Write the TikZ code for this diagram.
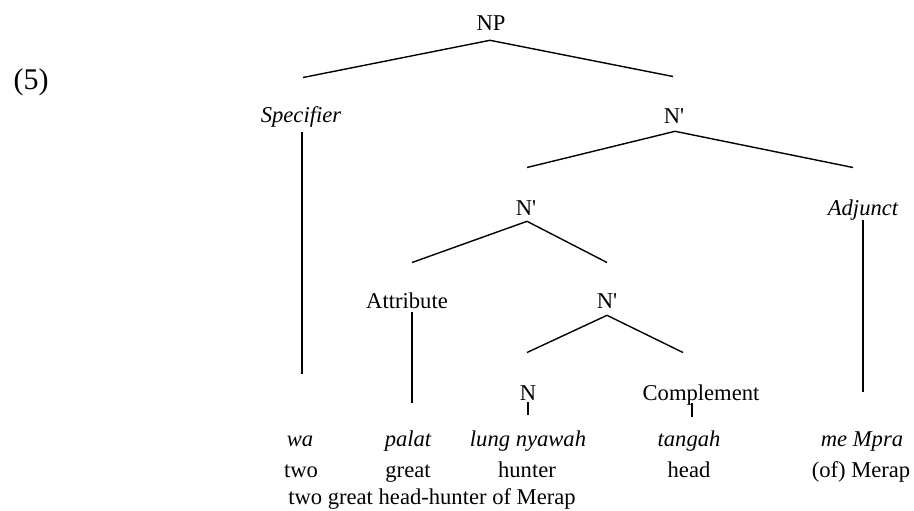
\documentclass[tikz,border=0pt]{standalone}
\usepackage{fontspec}
\setmainfont{Liberation Serif}
\usetikzlibrary{calc}

\begin{document}
\begin{tikzpicture}[x=0.5pt,y=-0.5pt,line width=0.7pt,
  every node/.style={inner sep=0pt,anchor=base,text height=7.9pt,text depth=2.8pt},
  cat/.style={font=\fontsize{11.3}{13}\selectfont},
  role/.style={font=\fontsize{11.3}{13}\selectfont\itshape},
  word/.style={font=\fontsize{11.3}{13}\selectfont\itshape},
  gloss/.style={font=\fontsize{11.3}{13}\selectfont}]

  \useasboundingbox (0,0) rectangle (914,510);

  \node[font=\fontsize{15}{18}\selectfont] (ex) at (31,89) {(5)};

  % tree labels
  \node[cat] (np) at (491,30) {NP};
  \node[role] (spec) at (301,122) {Specifier};
  \node[cat] (nbar1) at (674,123) {N\textquotesingle};
  \node[cat] (nbar2) at (526,215) {N\textquotesingle};
  \node[role] (adj) at (863,215) {Adjunct};
  \node[cat] (attr) at (407,308) {Attribute};
  \node[cat] (nbar3) at (607,308) {N\textquotesingle};
  \node[cat] (n) at (528,400) {N};
  \node[cat] (comp) at (701,400) {Complement};

  % words and glosses
  \node[word] (wa) at (300,446) {wa};
  \node[word] (palat) at (408,446) {palat};
  \node[word] (lung) at (528,446) {lung nyawah};
  \node[word] (tangah) at (689,446) {tangah};
  \node[word] (mpra) at (862,446) {me Mpra};
  \node[gloss] (two) at (301,477) {two};
  \node[gloss] (great) at (408,477) {great};
  \node[gloss] (hunter) at (527,477) {hunter};
  \node[gloss] (head) at (689,477) {head};
  \node[gloss] (merap) at (861,477) {(of) Merap};
  \node[gloss] (free) at (432,504) {two great head-hunter of Merap};

  % branches
  \draw ($(spec.north)+(2,-28)$) -- ($(np.south)+(-1,4)$) -- ($(nbar1.north)+(-1,-30)$);
  \draw ($(nbar2.north)+(1,-31)$) -- ($(nbar1.south)+(1,2)$) -- ($(adj.north)+(-10,-31)$);
  \draw ($(attr.north)+(5,-29)$) -- ($(nbar2.south)+(1,0)$) -- ($(nbar3.north)+(0,-29)$);
  \draw ($(n.north)+(-1,-31)$) -- ($(nbar3.south)+(0,1)$) -- ($(comp.north)+(-18,-31)$);

  \draw ($(spec.south)+(1,4)$) -- ($(wa.north)+(2,-56)$);
  \draw ($(attr.south)+(5,-2)$) -- ($(palat.north)+(4,-27)$);
  \draw ($(n.south)+(0,-4)$) -- ($(lung.north)+(0,-15)$);
  \draw ($(comp.south)+(-9,-3)$) -- ($(tangah.north)+(3,-13)$);
  \draw ($(adj.south)+(0,-1)$) -- ($(mpra.north)+(1,-38)$);

\end{tikzpicture}
\end{document}
